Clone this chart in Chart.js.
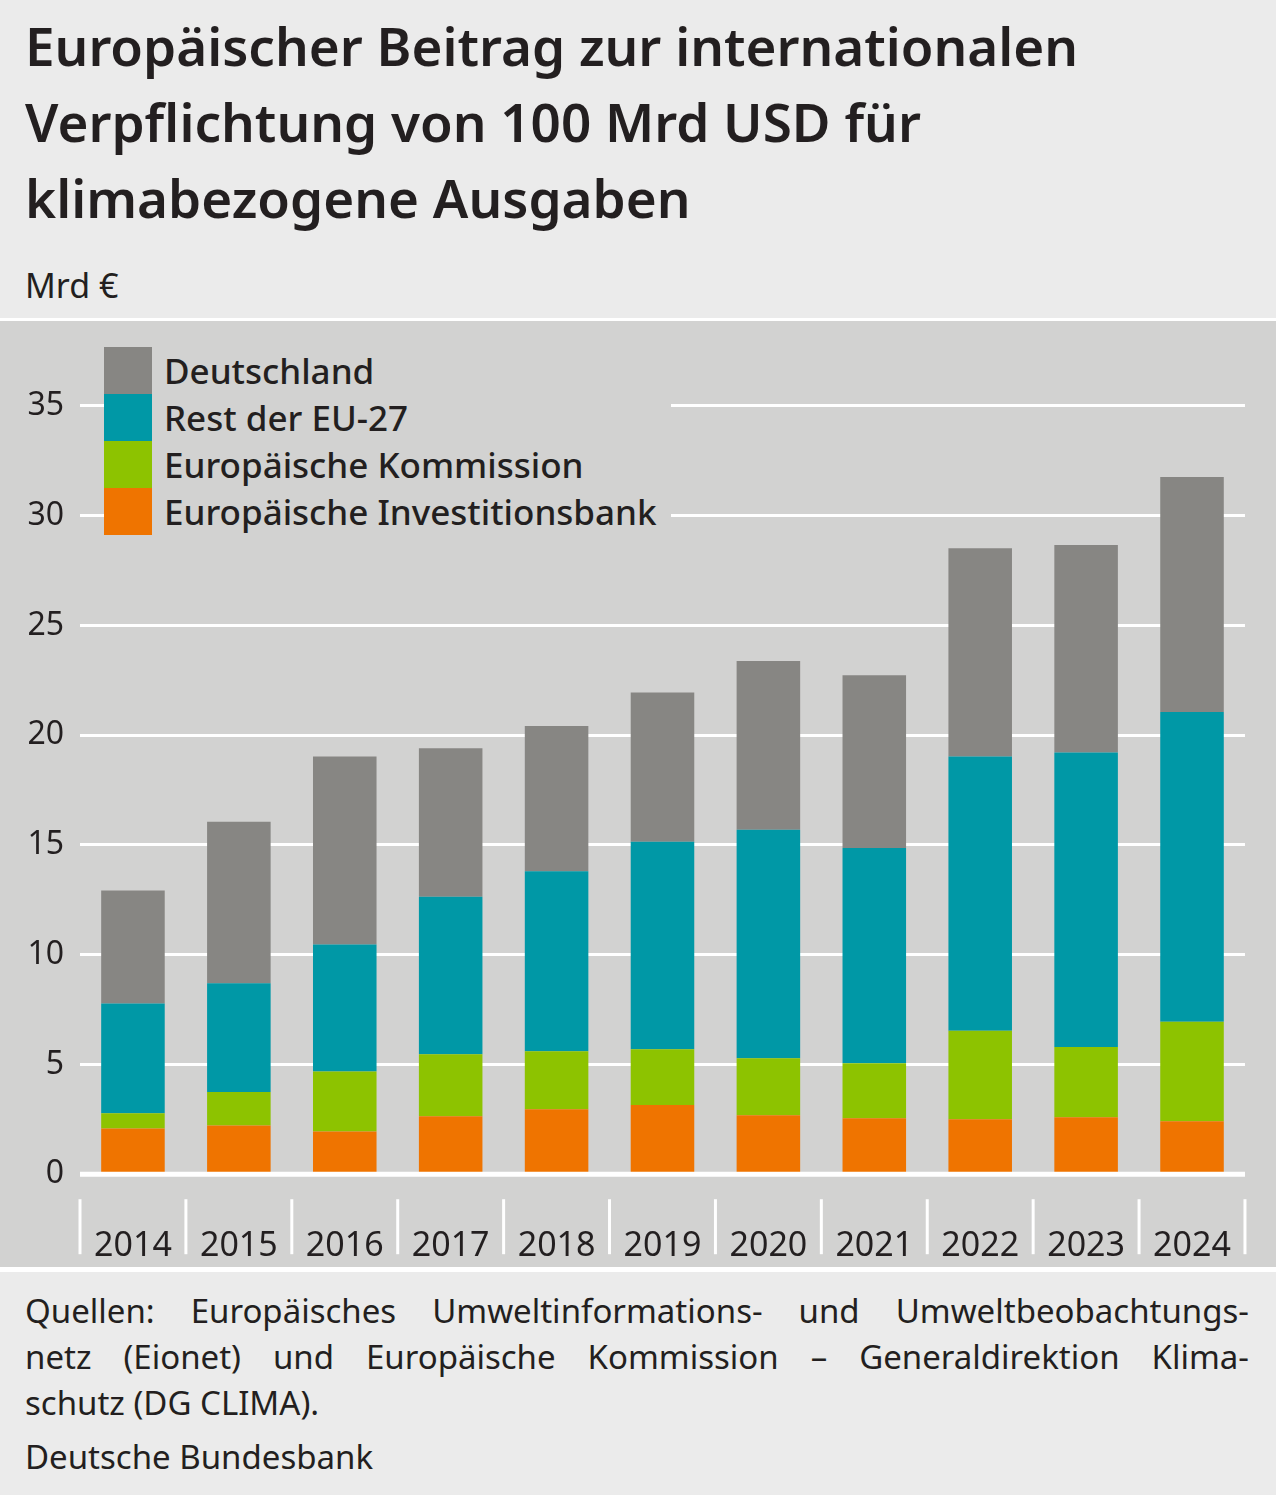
<!DOCTYPE html>
<html><head><meta charset="utf-8">
<script src="https://cdn.jsdelivr.net/npm/chart.js@4"></script>
<style>
body{margin:0;background:#ebebeb;font-family:"Noto Sans","Open Sans",sans-serif;color:#231f20;width:1276px;height:1495px;overflow:hidden;position:relative}
#title{position:absolute;left:25px;top:8px;font-size:53px;font-weight:600;line-height:76px}
#unit{position:absolute;left:25px;top:262px;font-size:34px}
#panel{position:absolute;left:0;top:318px;width:1276px;height:946px;background:#d2d2d1;border-top:3px solid #fff;border-bottom:5px solid #fff;overflow:hidden}
#legend{position:absolute;left:104px;top:26px;background:#d2d2d1;padding-right:14px}
.li{display:flex;align-items:center;height:47px;font-size:35px;font-weight:500}
.li span.b{width:48px;height:47px;margin-right:12px}
#foot{position:absolute;left:25px;top:1288px;width:1224px;font-size:33px;line-height:46px}
.j{text-align:justify;text-align-last:justify}
</style></head><body>
<div id="title">Europäischer Beitrag zur internationalen<br>Verpflichtung von 100 Mrd USD für<br>klimabezogene Ausgaben</div>
<div id="unit">Mrd €</div>
<div id="panel"><canvas id="c" width="1276" height="990"></canvas>
<div id="legend"></div></div>
<div id="foot"><div class="j">Quellen: Europäisches Umweltinformations- und Umweltbeobachtungs-</div><div class="j">netz (Eionet) und Europäische Kommission – Generaldirektion Klima-</div><div>schutz (DG CLIMA).</div><div style="margin-top:8px">Deutsche Bundesbank</div></div>
<script>
var jahre = ["2014","2015","2016","2017","2018","2019","2020","2021","2022","2023","2024"];
var eib = [2.08,2.22,1.94,2.64,2.96,3.15,2.69,2.55,2.50,2.59,2.41];
var kommission = [0.70,1.53,2.74,2.82,2.64,2.54,2.59,2.50,4.03,3.20,4.53];
var restEU = [5.00,4.95,5.78,7.18,8.20,9.45,10.41,9.81,12.50,13.42,14.12];
var deutschland = [5.14,7.36,8.57,6.76,6.62,6.80,7.69,7.87,9.49,9.45,10.70];

var serien = [
  {label:"Europäische Investitionsbank", data:eib, color:"#ef7400"},
  {label:"Europäische Kommission", data:kommission, color:"#8dc300"},
  {label:"Rest der EU-27", data:restEU, color:"#0098a6"},
  {label:"Deutschland", data:deutschland, color:"#878683"}
];

var leg = document.getElementById("legend");
serien.slice().reverse().forEach(function(s){
  leg.innerHTML += '<div class="li"><span class="b" style="background:'+s.color+'"></span>'+s.label+'</div>';
});

var trenner = {
  id:"trenner",
  afterDraw:function(chart){
    var ctx = chart.ctx, x = chart.scales.x, y = chart.scales.y;
    var w = (x.getPixelForValue(1) - x.getPixelForValue(0));
    ctx.save();
    ctx.strokeStyle = "#fff"; ctx.lineWidth = 3;
    for (var i = 0; i <= jahre.length; i++) {
      var px = x.getPixelForValue(0) - w/2 + i*w;
      ctx.beginPath(); ctx.moveTo(px, y.bottom+25); ctx.lineTo(px, y.bottom+80); ctx.stroke();
    }
    ctx.lineWidth = 5;
    ctx.beginPath(); ctx.moveTo(x.left, y.bottom); ctx.lineTo(x.right, y.bottom); ctx.stroke();
    ctx.restore();
  }
};

new Chart(document.getElementById("c"), {
  type:"bar",
  data:{labels:jahre, datasets:serien.map(function(s){return {label:s.label,data:s.data,backgroundColor:s.color,barPercentage:0.6,categoryPercentage:1};})},
  options:{
    responsive:false, animation:false,
    layout:{padding:{left:0,right:24,top:41,bottom:0}},
    plugins:{legend:{display:false},tooltip:{enabled:false}},
    scales:{
      x:{stacked:true,grid:{display:false},border:{display:false},
         ticks:{color:"#231f20",font:{size:34,family:"Noto Sans"},padding:44}},
      y:{stacked:true,min:0,max:37,
         afterBuildTicks:function(a){a.ticks=[0,5,10,15,20,25,30,35].map(function(v){return {value:v};});},
         afterFit:function(a){a.width=80;},
         grid:{color:"#fff",lineWidth:3,drawTicks:false},border:{display:false},
         ticks:{color:"#231f20",font:{size:32,family:"Noto Sans"},padding:16}}
    }
  },
  plugins:[trenner]
});
</script>
</body></html>
